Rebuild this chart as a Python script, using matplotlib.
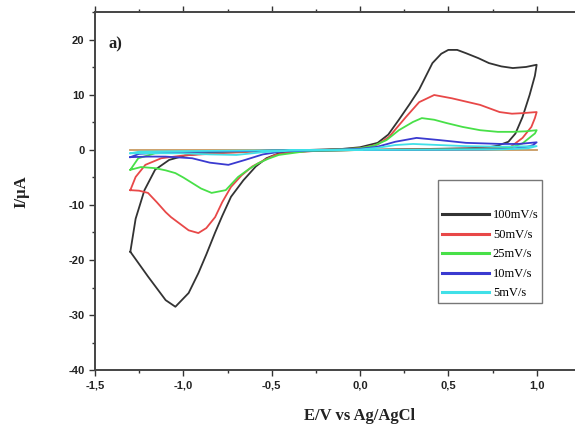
import matplotlib
matplotlib.use('Agg')
import matplotlib.pyplot as plt
from matplotlib.ticker import MultipleLocator

plt.rcParams['axes.unicode_minus'] = False

# ---- data (E in V, I in uA) ----
# 100 mV/s
e_100 = [-1.3, -1.27, -1.22, -1.16, -1.08, -0.99, -0.85, -0.7, -0.5, -0.3, -0.1, 0.0, 0.1, 0.16,
         0.22, 0.28, 0.335, 0.41, 0.46, 0.5, 0.55, 0.6, 0.67, 0.73, 0.8, 0.865, 0.94, 1.0,
         0.99, 0.96, 0.92, 0.88, 0.84, 0.78, 0.73, 0.6, 0.4, 0.2, 0.0, -0.2, -0.35, -0.46, -0.53,
         -0.59, -0.66, -0.73, -0.78, -0.82, -0.87, -0.915, -0.97, -1.045, -1.1, -1.2, -1.3]
i_100 = [-18.5, -12.5, -7.3, -3.6, -1.8, -1.0, -0.5, -0.3, -0.1, 0.0, 0.2, 0.5, 1.3, 2.8,
         5.5, 8.3, 11.0, 15.8, 17.5, 18.2, 18.2, 17.6, 16.7, 15.8, 15.2, 14.9, 15.1, 15.5,
         13.5, 10.0, 6.0, 3.0, 1.5, 0.8, 0.5, 0.3, 0.2, 0.1, 0.0, -0.1, -0.3, -0.6, -1.5,
         -3.0, -5.5, -8.5, -12.0, -15.0, -19.0, -22.4, -26.0, -28.5, -27.3, -23.0, -18.5]

# 50 mV/s
e_50 = [-1.3, -1.27, -1.215, -1.125, -1.0, -0.8, -0.6, -0.4, -0.2, 0.0, 0.1, 0.165, 0.26, 0.335,
        0.42, 0.52, 0.6, 0.68, 0.79, 0.86, 0.92, 1.0,
        0.99, 0.97, 0.92, 0.85, 0.7, 0.5, 0.2, 0.0, -0.2, -0.4, -0.48, -0.54, -0.61, -0.67, -0.73,
        -0.78, -0.82, -0.87, -0.915, -0.97, -1.02, -1.07, -1.1, -1.15, -1.2, -1.25, -1.3]
i_50 = [-7.3, -4.9, -2.7, -1.5, -1.0, -0.6, -0.3, -0.1, 0.0, 0.3, 1.0, 2.4, 6.0, 8.7,
        10.0, 9.4, 8.8, 8.2, 6.9, 6.6, 6.7, 6.9,
        5.8, 4.2, 2.2, 0.5, 0.3, 0.2, 0.1, 0.0, -0.1, -0.4, -0.9, -1.8, -3.0, -4.6, -6.7,
        -9.5, -12.2, -14.2, -15.1, -14.6, -13.4, -12.2, -11.3, -9.5, -7.8, -7.4, -7.3]

# 25 mV/s
e_25 = [-1.3, -1.255, -1.16, -1.0, -0.8, -0.6, -0.4, -0.2, 0.0, 0.08, 0.15, 0.22, 0.3, 0.35,
        0.42, 0.49, 0.58, 0.68, 0.78, 0.865, 0.94, 1.0,
        0.99, 0.97, 0.92, 0.85, 0.7, 0.4, 0.0, -0.3, -0.46, -0.52, -0.575, -0.63, -0.69, -0.76,
        -0.84, -0.9, -0.95, -1.0, -1.045, -1.1, -1.16, -1.24, -1.3]
i_25 = [-3.6, -1.5, -0.6, -0.4, -0.3, -0.2, -0.1, 0.0, 0.3, 0.8, 1.8, 3.6, 5.1, 5.8,
        5.5, 4.9, 4.2, 3.6, 3.3, 3.3, 3.4, 3.6,
        3.0, 2.5, 1.2, 0.4, 0.2, 0.1, 0.0, -0.2, -0.9, -1.6, -2.4, -3.5, -4.9, -7.3,
        -7.8, -7.0, -6.0, -5.0, -4.2, -3.7, -3.3, -3.1, -3.6]

# 10 mV/s
e_10 = [-1.3, -1.25, -1.1, -0.8, -0.5, -0.2, 0.0, 0.1, 0.2, 0.32, 0.45, 0.6, 0.8, 0.9, 1.0,
        0.98, 0.95, 0.85, 0.7, 0.4, 0.0, -0.3, -0.45, -0.55, -0.65, -0.745, -0.85, -0.95,
        -1.1, -1.2, -1.3]
i_10 = [-1.3, -0.7, -0.4, -0.3, -0.1, 0.0, 0.2, 0.6, 1.5, 2.2, 1.8, 1.3, 1.1, 1.1, 1.4,
        0.9, 0.6, 0.2, 0.1, 0.05, 0.0, -0.1, -0.3, -0.8, -1.8, -2.7, -2.3, -1.5,
        -1.2, -1.2, -1.3]

# 5 mV/s
e_5 = [-1.3, -1.25, -1.0, -0.6, -0.2, 0.0, 0.1, 0.2, 0.3, 0.45, 0.6, 0.8, 1.0,
       0.95, 0.8, 0.4, 0.0, -0.4, -0.55, -0.7, -0.85, -1.0, -1.15, -1.3]
i_5 = [-0.6, -0.3, -0.2, -0.1, 0.0, 0.1, 0.4, 0.9, 1.1, 0.9, 0.7, 0.6, 0.7,
       0.3, 0.1, 0.05, 0.0, -0.1, -0.4, -0.9, -0.8, -0.6, -0.6, -0.6]

# flat baseline trace
e_base = [-1.3, 1.0]
i_base = [0.0, 0.0]

series = [
    (e_100, i_100, '100mV/s', '#333333'),
    (e_50, i_50, '50mV/s', '#e84848'),
    (e_25, i_25, '25mV/s', '#48e048'),
    (e_10, i_10, '10mV/s', '#3a3ad0'),
    (e_5, i_5, '5mV/s', '#40e0e8'),
]

x_ticks = [-1.5, -1.0, -0.5, 0.0, 0.5, 1.0]
x_tick_labels = ['-1,5', '-1,0', '-0,5', '0,0', '0,5', '1,0']
y_ticks = [-40, -30, -20, -10, 0, 10, 20]

fig = plt.figure(figsize=(5.75, 4.36), dpi=100)
ax = fig.add_axes([95 / 575, 66 / 436, 530 / 575, 357.5 / 436])

ax.plot(e_base, i_base, color='#c89a60', lw=1.3)
for e, i, lab, col in series:
    ax.plot(e, i, color=col, lw=1.3, label=lab)

ax.set_xlim(-1.5, 1.5)
ax.set_ylim(-40, 25)
ax.set_xticks(x_ticks)
ax.set_xticklabels(x_tick_labels)
ax.set_yticks(y_ticks)
ax.xaxis.set_minor_locator(MultipleLocator(0.25))
ax.yaxis.set_minor_locator(MultipleLocator(5))
ax.tick_params(which='both', direction='out', top=True, labelsize=8, colors='#333333',
               labelcolor='#222222')
ax.tick_params(which='major', length=4, width=1)
ax.tick_params(which='minor', length=2.5, width=1)
for lbl in ax.get_xticklabels() + ax.get_yticklabels():
    lbl.set_family('Liberation Sans')
    lbl.set_fontweight('bold')

for sp in ax.spines.values():
    sp.set_linewidth(1.4)
    sp.set_color('#444444')

ax.set_xlabel('E/V vs Ag/AgCl', family='Liberation Serif', fontweight='bold', fontsize=12,
              labelpad=13, color='#222222')
ax.set_ylabel('I/μA', family='Liberation Serif', fontweight='bold', fontsize=12,
              labelpad=28, color='#222222')
ax.text(0.025, 0.9, 'a)', transform=ax.transAxes, family='Liberation Serif',
        fontweight='bold', fontsize=12, color='#222222')

leg = ax.legend(loc='upper left', bbox_to_anchor=(0.647, 0.531), frameon=True, fancybox=False,
                edgecolor='#555555', prop={'family': 'Liberation Serif', 'size': 9},
                title=' ', title_fontsize=12, handlelength=3.8, labelspacing=0.6,
                handletextpad=0.3, borderpad=0.3, borderaxespad=0)
leg.get_frame().set_linewidth(1.0)
for line in leg.get_lines():
    line.set_linewidth(2.2)

fig.savefig('out.png', dpi=100)
